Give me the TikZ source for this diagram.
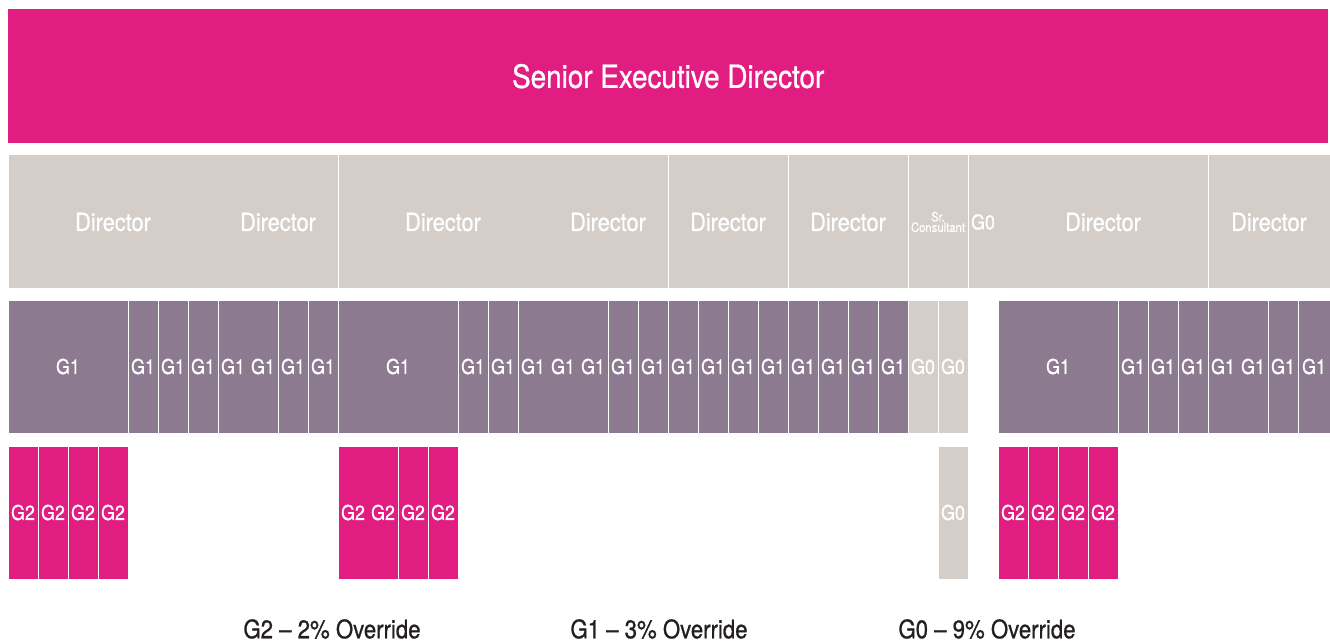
\documentclass[tikz,border=0pt]{standalone}
\usepackage{fontspec}
\setmainfont{TeX Gyre Heros}[FakeStretch=0.87, FakeBold=0.8]
\definecolor{magentaC}{HTML}{E21D82}
\definecolor{beigeC}{HTML}{D5CDC8}
\definecolor{plumC}{HTML}{8C7A90}
\definecolor{inkC}{HTML}{231F20}

% block: style, name, top y, first column, last column, text  (columns are 30pt wide, starting at x=8)
\newcommand\blk[6]{\node[#1, minimum width={(#5-#4)*30pt}] (#2) at ({8+30*#4}, #3) {#6};}

\begin{document}
\begin{tikzpicture}[x=1pt, y=-1pt,
  box/.style={draw=white, line width=1pt, inner sep=0pt, outer sep=0pt, anchor=north west, text=white},
  dirbox/.style={box, fill=beigeC, minimum height=134pt, font=\fontsize{25}{25}\selectfont},
  gonebox/.style={box, fill=plumC, minimum height=133pt, font=\fontsize{20.5}{20.5}\selectfont},
  gzerobox/.style={box, fill=beigeC, minimum height=133pt, font=\fontsize{20.5}{20.5}\selectfont},
  gtwobox/.style={box, fill=magentaC, minimum height=133pt, font=\fontsize{20.5}{20.5}\selectfont},
  dirlbl/.style={inner sep=0pt, text=white, font=\fontsize{25}{25}\selectfont},
  glbl/.style={inner sep=0pt, text=white, font=\fontsize{20.5}{20.5}\selectfont},
  legend/.style={inner sep=0pt, text=inkC, font=\fontsize{25.5}{25.5}\selectfont},
]
\useasboundingbox (0,0) rectangle (1330,644);

% top banner
\node[fill=magentaC, minimum width=1320pt, minimum height=134pt, anchor=north west,
      inner sep=0pt, text=white, font=\fontsize{32}{32}\selectfont] (sed) at (8,9)
      {Senior Executive Director};

% director row
\blk{dirbox}{dirA}{155}{0}{11}{}
\node[dirlbl] (dirAa) at ([xshift=105pt]dirA.west) {Director};
\node[dirlbl] (dirAb) at ([xshift=270pt]dirA.west) {Director};
\blk{dirbox}{dirB}{155}{11}{22}{}
\node[dirlbl] (dirBa) at ([xshift=105pt]dirB.west) {Director};
\node[dirlbl] (dirBb) at ([xshift=270pt]dirB.west) {Director};
\blk{dirbox}{dirC}{155}{22}{26}{Director}
\blk{dirbox}{dirD}{155}{26}{30}{Director}
\blk{dirbox, align=center, font=\fontsize{13}{10.5}\selectfont}{srcons}{155}{30}{32}{Sr.\\Consultant}
\blk{dirbox}{dirE}{155}{32}{40}{}
\node[glbl] (gzeroTop) at ([xshift=15pt]dirE.west) {G0};
\node[dirlbl] (dirEa) at ([xshift=135pt]dirE.west) {Director};
\blk{dirbox}{dirF}{155}{40}{44.067}{Director}

% G1 row
\blk{gonebox}{goneA}{300}{0}{4}{G1}
\foreach \k in {4,5,6,9,10,15,16,20,21,22,23,24,25,26,27,28,29,37,38,39,42}
  {\blk{gonebox}{gone\k}{300}{\k}{\k+1}{G1}}
\blk{gonebox}{goneB}{300}{7}{9}{}
\node[glbl] (goneBa) at ([xshift=15pt]goneB.west) {G1};
\node[glbl] (goneBb) at ([xshift=45pt]goneB.west) {G1};
\blk{gonebox}{goneC}{300}{11}{15}{G1}
\blk{gonebox}{goneD}{300}{17}{20}{}
\node[glbl] (goneDa) at ([xshift=15pt]goneD.west) {G1};
\node[glbl] (goneDb) at ([xshift=45pt]goneD.west) {G1};
\node[glbl] (goneDc) at ([xshift=75pt]goneD.west) {G1};
\blk{gzerobox}{gzeroA}{300}{30}{31}{G0}
\blk{gzerobox}{gzeroB}{300}{31}{32}{G0}
\blk{gonebox}{goneE}{300}{33}{37}{G1}
\blk{gonebox}{goneF}{300}{40}{42}{}
\node[glbl] (goneFa) at ([xshift=15pt]goneF.west) {G1};
\node[glbl] (goneFb) at ([xshift=45pt]goneF.west) {G1};
\blk{gonebox}{goneG}{300}{43}{44.067}{G1}

% G2 row
\foreach \k in {0,1,2,3,13,14,33,34,35,36}
  {\blk{gtwobox}{gtwo\k}{446}{\k}{\k+1}{G2}}
\blk{gtwobox}{gtwoA}{446}{11}{13}{}
\node[glbl] (gtwoAa) at ([xshift=15pt]gtwoA.west) {G2};
\node[glbl] (gtwoAb) at ([xshift=45pt]gtwoA.west) {G2};
\blk{gzerobox}{gzeroC}{446}{31}{32}{G0}

% legend
\node[legend] (legTwo) at (332,629) {G2 – 2\% Override};
\node[legend] (legOne) at (659,629) {G1 – 3\% Override};
\node[legend] (legZero) at (987,629) {G0 – 9\% Override};
\end{tikzpicture}
\end{document}
